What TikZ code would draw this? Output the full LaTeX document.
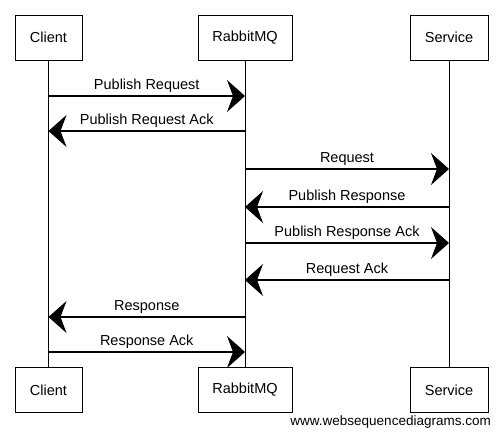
\documentclass[tikz,border=0pt]{standalone}
\usepackage{fontspec}
\setmainfont{Liberation Sans}
\usetikzlibrary{arrows.meta}
\begin{document}
\begin{tikzpicture}[x=1pt,y=-1pt,
  actor/.style={draw=black,line width=0.9pt,minimum height=45pt,inner sep=0pt,font=\fontsize{14.5}{16}\selectfont},
  life/.style={draw=black,line width=0.8pt},
  msg/.style={draw=black,line width=1.1pt,-{Stealth[length=18pt,width=32pt,inset=6pt]}},
  lbl/.style={font=\fontsize{14.5}{16}\selectfont,above=0pt,midway}]
\useasboundingbox (0,0) rectangle (500,436);
% actors top
\node[actor,minimum width=67pt] (ct) at (48.5,37.5) {Client};
\node[actor,minimum width=94pt] (rt) at (245,37.5) {RabbitMQ};
\node[actor,minimum width=78pt] (st) at (449,37.5) {Service};
% actors bottom
\node[actor,minimum width=67pt] (cb) at (48.5,390) {Client};
\node[actor,minimum width=94pt] (rb) at (245,390) {RabbitMQ};
\node[actor,minimum width=78pt] (sb) at (449,390) {Service};
% lifelines
\draw[life] (ct.south) -- (cb.north);
\draw[life] (rt.south) -- (rb.north);
\draw[life] (st.south) -- (sb.north);
% message coordinates
\coordinate (c1) at (48.5,96);  \coordinate (r1) at (245,96);
\coordinate (c2) at (48.5,131); \coordinate (r2) at (245,131);
\coordinate (r3) at (245,169);  \coordinate (s3) at (449,169);
\coordinate (r4) at (245,207);  \coordinate (s4) at (449,207);
\coordinate (r5) at (245,243);  \coordinate (s5) at (449,243);
\coordinate (r6) at (245,280);  \coordinate (s6) at (449,280);
\coordinate (c7) at (48.5,317); \coordinate (r7) at (245,317);
\coordinate (c8) at (48.5,352); \coordinate (r8) at (245,352);
% messages
\draw[msg] (c1) -- node[lbl] {Publish Request} (r1);
\draw[msg] (r2) -- node[lbl] {Publish Request Ack} (c2);
\draw[msg] (r3) -- node[lbl] {Request} (s3);
\draw[msg] (s4) -- node[lbl] {Publish Response} (r4);
\draw[msg] (r5) -- node[lbl] {Publish Response Ack} (s5);
\draw[msg] (s6) -- node[lbl] {Request Ack} (r6);
\draw[msg] (r7) -- node[lbl] {Response} (c7);
\draw[msg] (c8) -- node[lbl] {Response Ack} (r8);
% watermark
\node[anchor=east,inner sep=0pt,font=\fontsize{13.5}{15}\selectfont] (wm) at (491,422) {www.websequencediagrams.com};
\end{tikzpicture}
\end{document}
